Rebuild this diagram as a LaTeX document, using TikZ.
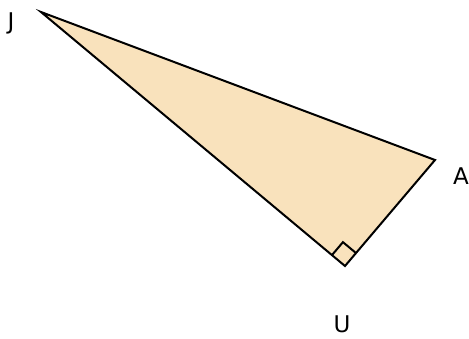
\documentclass[tikz,border=0pt]{standalone}
\usepackage{fontspec}
\setmainfont{DejaVu Sans}
\usetikzlibrary{calc}
\definecolor{sand}{RGB}{249,226,188}
\tikzset{
  vlabel/.style={font=\fontsize{23}{27}\selectfont, inner sep=0pt, text depth=0pt, anchor=base}
}
\begin{document}
\begin{tikzpicture}[x=1pt, y=-1pt, line width=2pt]
  \useasboundingbox (0,0) rectangle (469,338);
  % 顶点
  \coordinate (J) at (41,12);
  \coordinate (A) at (435,160);
  \coordinate (U) at (345,266);
  % 三角形
  \draw[fill=sand] (J) -- (A) -- (U) -- cycle;
  % 直角记号
  \draw ($(U)!17pt!(J)$) -- ($($(U)!17pt!(J)$)+($(U)!17pt!(A)$)-(U)$) -- ($(U)!17pt!(A)$);
  % 标签
  \node[vlabel] (lJ) at (11,29) {J};
  \node[vlabel] (lA) at (461,184) {A};
  \node[vlabel] (lU) at (342,332) {U};
\end{tikzpicture}
\end{document}
